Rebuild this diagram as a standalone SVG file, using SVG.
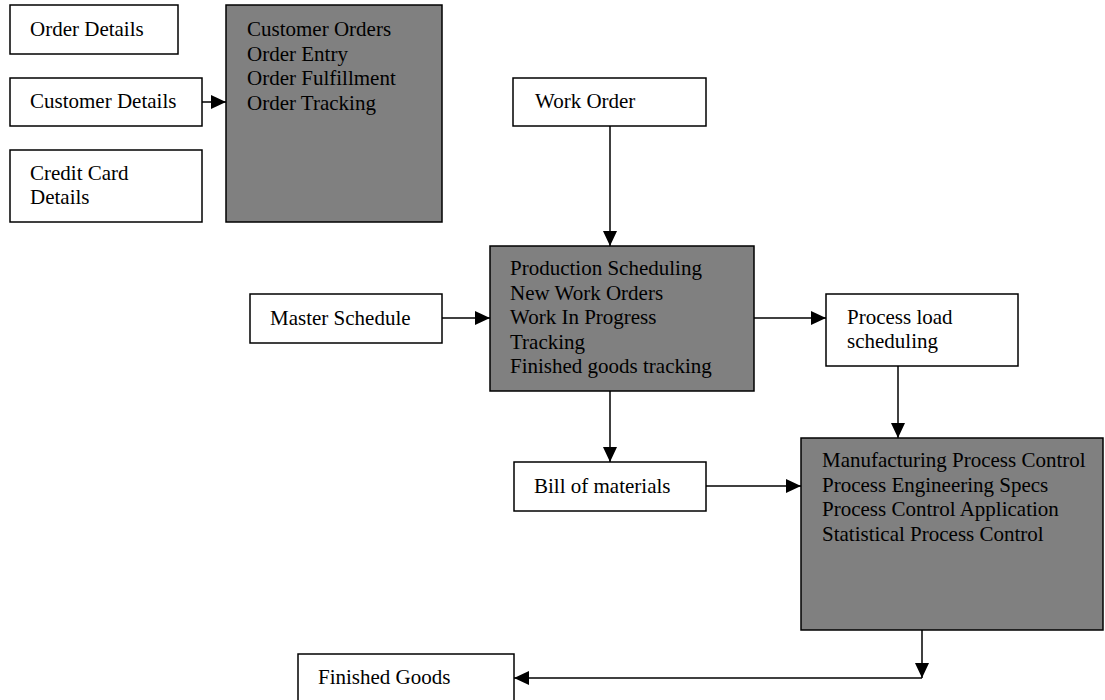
<svg xmlns="http://www.w3.org/2000/svg" width="1105" height="700" viewBox="0 0 1105 700">
<style>
rect.w{fill:#ffffff;stroke:#000000;stroke-width:1.5}
rect.g{fill:#808080;stroke:#000000;stroke-width:1.5}
text{font-family:"Liberation Serif","Times New Roman",serif;font-size:21px;fill:#000000}
.c line{stroke:#000000;stroke-width:1.5;marker-end:url(#ah)}
</style>
<defs>
<marker id="ah" markerUnits="userSpaceOnUse" markerWidth="15" markerHeight="14" refX="15" refY="7" orient="auto">
<path d="M0,0 L15,7 L0,14 z" fill="#000000"/>
</marker>
</defs>
<rect x="0" y="0" width="1105" height="700" fill="#ffffff"/>
<g id="order-details"><rect class="w" x="10" y="5" width="168" height="49"/><text x="30" y="36">Order Details</text></g>
<g id="customer-details"><rect class="w" x="10" y="78" width="192" height="48"/><text x="30" y="108">Customer Details</text></g>
<g id="credit-card-details"><rect class="w" x="10" y="150" width="192" height="72"/><text x="30" y="180">Credit Card</text><text x="30" y="204">Details</text></g>
<g id="customer-orders"><rect class="g" x="226" y="5" width="216" height="217"/><text x="247" y="36">Customer Orders</text><text x="247" y="60.5">Order Entry</text><text x="247" y="85">Order Fulfillment</text><text x="247" y="109.5">Order Tracking</text></g>
<g id="work-order"><rect class="w" x="513" y="78" width="193" height="48"/><text x="535" y="108">Work Order</text></g>
<g id="master-schedule"><rect class="w" x="250" y="294" width="192" height="49"/><text x="270" y="325">Master Schedule</text></g>
<g id="production-scheduling"><rect class="g" x="490" y="246" width="264" height="145"/><text x="510" y="275">Production Scheduling</text><text x="510" y="299.6">New Work Orders</text><text x="510" y="324.2">Work In Progress</text><text x="510" y="348.8">Tracking</text><text x="510" y="373.4">Finished goods tracking</text></g>
<g id="process-load-scheduling"><rect class="w" x="826" y="294" width="192" height="72"/><text x="847" y="324">Process load</text><text x="847" y="348">scheduling</text></g>
<g id="bill-of-materials"><rect class="w" x="514" y="462" width="192" height="49"/><text x="534" y="493">Bill of materials</text></g>
<g id="manufacturing-process-control"><rect class="g" x="801" y="438" width="302" height="192"/><text x="822" y="467">Manufacturing Process Control</text><text x="822" y="491.6">Process Engineering Specs</text><text x="822" y="516.2">Process Control Application</text><text x="822" y="540.8">Statistical Process Control</text></g>
<g id="finished-goods"><rect class="w" x="298" y="654" width="216" height="60"/><text x="318" y="684">Finished Goods</text></g>
<g id="connectors" class="c">
<line x1="202" y1="102" x2="226" y2="102"/>
<line x1="610" y1="126" x2="610" y2="246"/>
<line x1="442" y1="318" x2="490" y2="318"/>
<line x1="754" y1="318" x2="826" y2="318"/>
<line x1="610" y1="391" x2="610" y2="462"/>
<line x1="898" y1="366" x2="898" y2="438"/>
<line x1="706" y1="486" x2="801" y2="486"/>
<line x1="922" y1="630" x2="922" y2="678"/>
<line x1="922" y1="678" x2="514" y2="678"/>
</g>
</svg>
